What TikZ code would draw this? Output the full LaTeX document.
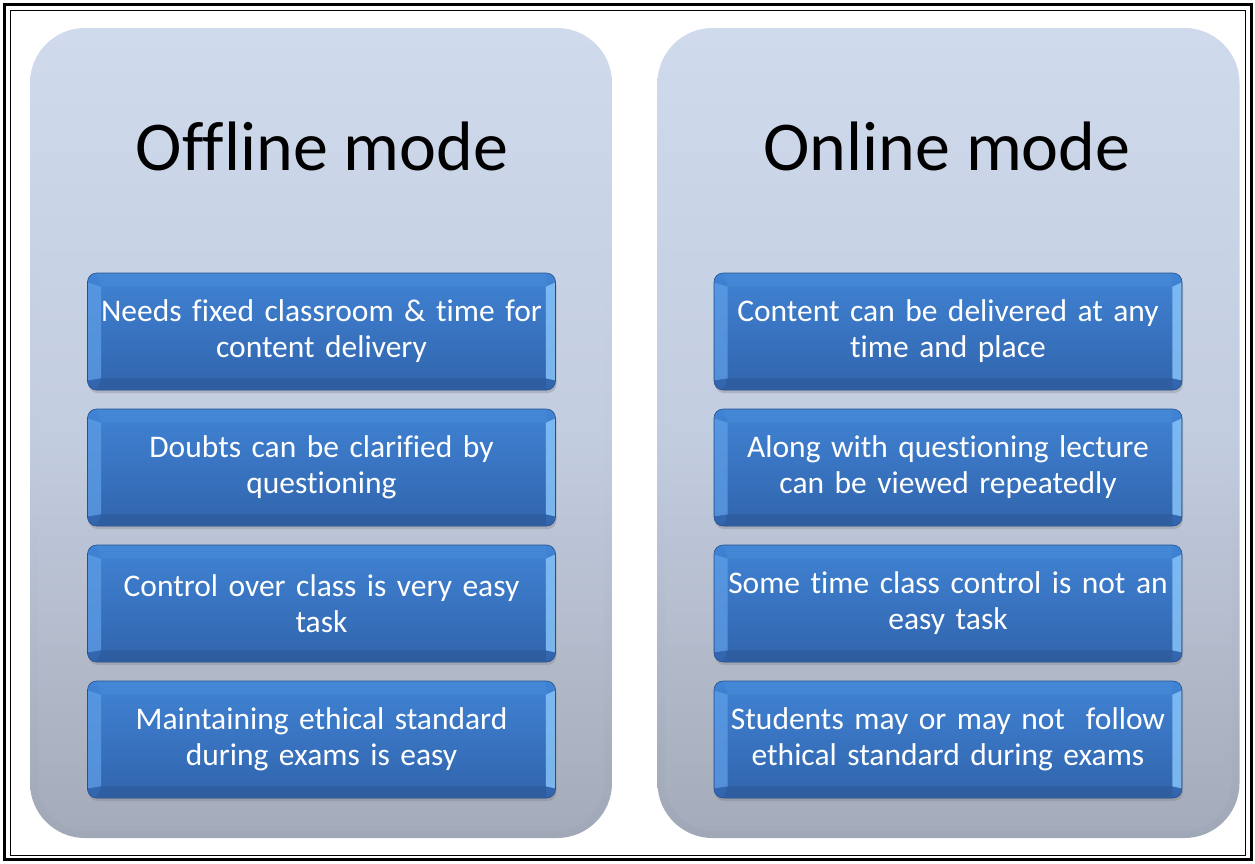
\documentclass[tikz,border=0pt]{standalone}
\usepackage{fontspec}
\setmainfont{Carlito}[Ligatures={NoCommon}]
\usetikzlibrary{shadows,calc}
\definecolor{pantop}{RGB}{207,218,236}
\definecolor{panmid}{RGB}{194,204,224}
\definecolor{panbot}{RGB}{160,167,182}
\definecolor{boxtop}{RGB}{64,131,212}
\definecolor{boxbot}{RGB}{49,100,172}
\definecolor{boxline}{RGB}{38,80,140}
\definecolor{bevleft}{RGB}{92,155,228}
\definecolor{bevright}{RGB}{135,195,248}
\definecolor{bevbot}{RGB}{44,88,152}
\definecolor{bevtop}{RGB}{72,140,218}
\tikzset{
  panel/.style={rectangle, rounded corners=55pt, minimum width=582pt, minimum height=810pt,
    top color=pantop, bottom color=panbot, middle color=panmid, draw=none, inner sep=0pt},
  paninner/.style={rectangle, rounded corners=48pt, minimum width=566pt, minimum height=796pt,
    top color=pantop, bottom color=panbot!92!white, middle color=panmid!96!white, draw=none, inner sep=0pt, opacity=0.6},
  title/.style={font=\fontsize{70}{80}\selectfont, text=black, anchor=base},
  item/.style={rectangle, rounded corners=9pt, minimum width=468pt, minimum height=117pt,
    top color=boxtop, bottom color=boxbot, draw=boxline, line width=0.6pt, inner sep=0pt,
    drop shadow={opacity=0.35, shadow xshift=1pt, shadow yshift=-3pt}},
  itemtext/.style={font=\fontsize{31.5}{36}\selectfont, text=white, align=center, text width=470pt}
}
\begin{document}
\begin{tikzpicture}[x=1pt,y=-1pt]
\useasboundingbox (0,0) rectangle (1255,863);
\fill[white] (0,0) rectangle (1255,863);
% frame
\draw[line width=2.6pt] (4.5,4.5) rectangle (1251.5,859.5);
\draw[line width=1.3pt] (10.5,10.5) rectangle (1245.5,855.5);
% panels
\node[panel] (lp) at (321,433) {};
\node[paninner] (lpi) at (lp.center) {};
\node[panel] (rp) at (948.5,433) {};
\node[paninner] (rpi) at (rp.center) {};
% titles
\node[title] (lt) at (322,170) {Offline mode};
\node[title] (rt) at (947,170) {Online mode};
% boxes
\foreach \nm/\cx/\cy in {l1/321.5/331.5, l2/321.5/467.5, l3/321.5/603.5, l4/321.5/739.5,
                         r1/948/331.5, r2/948/467.5, r3/948/603.5, r4/948/739.5}{
  \node[item] (\nm) at (\cx,\cy) {};
  % bevels
  \fill[bevleft, opacity=0.8] ($(\nm.north west)+(1,10)$) -- ($(\nm.north west)+(14,14)$)
     -- ($(\nm.south west)+(14,-12)$) -- ($(\nm.south west)+(1,-10)$) -- cycle;
  \fill[bevright, opacity=0.85] ($(\nm.north east)+(-1,10)$) -- ($(\nm.north east)+(-10,14)$)
     -- ($(\nm.south east)+(-10,-12)$) -- ($(\nm.south east)+(-1,-10)$) -- cycle;
  \fill[bevbot, opacity=0.6] ($(\nm.south west)+(10,-1)$) -- ($(\nm.south west)+(14,-12)$)
     -- ($(\nm.south east)+(-10,-12)$) -- ($(\nm.south east)+(-10,-1)$) -- cycle;
  \fill[bevtop, opacity=0.5] ($(\nm.north west)+(10,1)$) -- ($(\nm.north west)+(14,14)$)
     -- ($(\nm.north east)+(-10,14)$) -- ($(\nm.north east)+(-10,1)$) -- cycle;
}
% texts
\node[itemtext] (l1t) at (l1.center) {Needs fixed classroom \& time for\\content delivery};
\node[itemtext] (l2t) at (l2.center) {Doubts can be clarified by\\questioning};
\node[itemtext] (l3t) at (l3.center) {Control over class is very easy\\task};
\node[itemtext] (l4t) at (l4.center) {Maintaining ethical standard\\during exams is easy};
\node[itemtext] (r1t) at (r1.center) {Content can be delivered at any\\time and place};
\node[itemtext] (r2t) at (r2.center) {Along with questioning lecture\\can be viewed repeatedly};
\node[itemtext] (r3t) at (r3.center) {Some time class control is not an\\easy task};
\node[itemtext] (r4t) at (r4.center) {Students may or may not\ \ follow\\ethical standard during exams};
\end{tikzpicture}
\end{document}
